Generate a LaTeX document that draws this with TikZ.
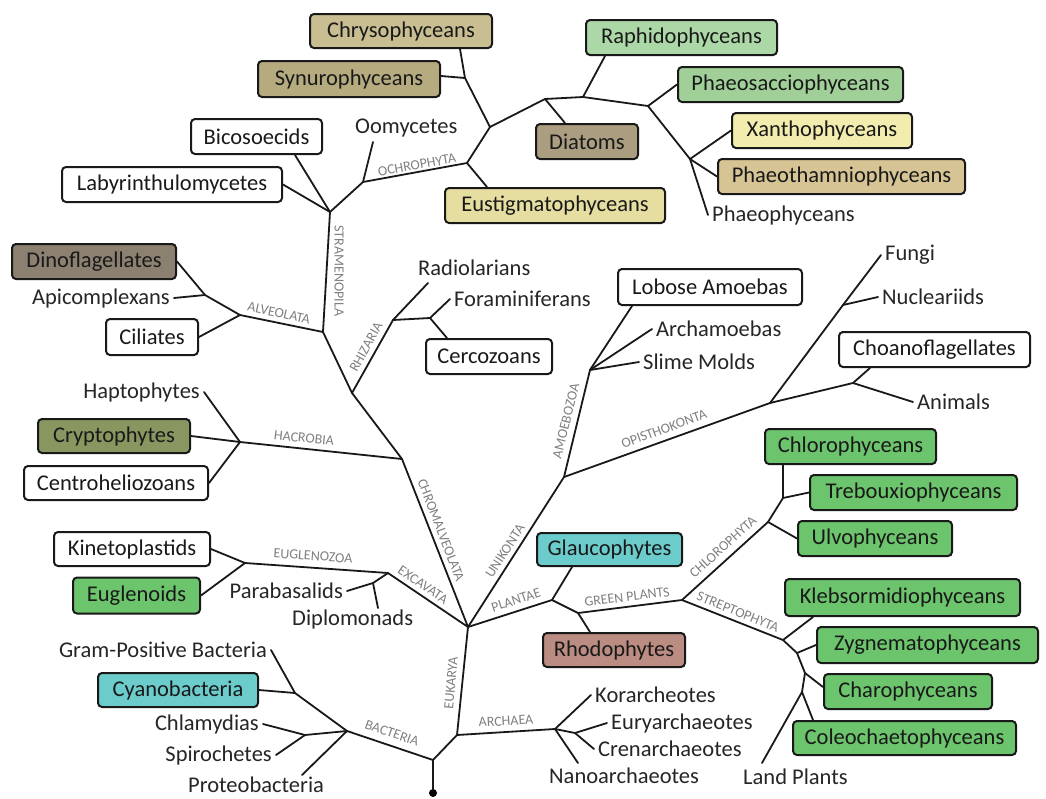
\documentclass[tikz,border=0pt]{standalone}
\usepackage{fontspec}
\setmainfont{Carlito}
\definecolor{cChry}{RGB}{201,190,146}
\definecolor{cSynu}{RGB}{182,170,127}
\definecolor{cDiat}{RGB}{170,157,128}
\definecolor{cDino}{RGB}{140,129,113}
\definecolor{cEust}{RGB}{230,222,160}
\definecolor{cXant}{RGB}{242,237,175}
\definecolor{cPhth}{RGB}{214,196,148}
\definecolor{cRaph}{RGB}{172,216,168}
\definecolor{cPhsa}{RGB}{160,208,152}
\definecolor{cCryp}{RGB}{136,151,96}
\definecolor{cGreen}{RGB}{108,196,108}
\definecolor{cCyan}{RGB}{108,204,204}
\definecolor{cRhod}{RGB}{186,140,130}
\begin{document}
\begin{tikzpicture}[x=1pt,y=-1pt,
  box/.style={draw=black!90, line width=2pt, rounded corners=4pt, inner sep=0pt, font=\fontsize{22.5}{26}\selectfont, text=black!90},
  txt/.style={inner sep=4pt, font=\fontsize{22.5}{26}\selectfont, text=black!85},
  lab/.style={inner sep=0pt, font=\fontsize{14}{16}\selectfont, text=black!50},
  br/.style={line width=1.8pt, draw=black!90, line cap=round, line join=round},
]
\fill[white] (0,0) rectangle (1046,798);
\useasboundingbox (0,0) rectangle (1046,798);

% ---------- boxes ----------
\node[box, fill=cChry, minimum width=182pt, minimum height=34pt] (chry) at (401,31) {Chrysophyceans};
\node[box, fill=cSynu, minimum width=182pt, minimum height=36pt] (synu) at (349,79) {Synurophyceans};
\node[box, fill=white, minimum width=131pt, minimum height=35pt] (bico) at (256.5,136.5) {Bicosoecids};
\node[box, fill=white, minimum width=220pt, minimum height=35pt] (laby) at (172,184.5) {Labyrinthulomycetes};
\node[box, fill=cEust, minimum width=220pt, minimum height=35pt] (eust) at (555,205.5) {Eustigmatophyceans};
\node[box, fill=cRaph, minimum width=191pt, minimum height=35pt] (raph) at (681.5,37.5) {Raphidophyceans};
\node[box, fill=cPhsa, minimum width=225pt, minimum height=35pt] (phsa) at (790.5,84.5) {Phaeosacciophyceans};
\node[box, fill=cDiat, minimum width=102pt, minimum height=35pt] (diat) at (587,141.5) {Diatoms};
\node[box, fill=cXant, minimum width=180pt, minimum height=35pt] (xant) at (822,130.5) {Xanthophyceans};
\node[box, fill=cPhth, minimum width=247pt, minimum height=35pt] (phth) at (841.5,176.5) {Phaeothamniophyceans};
\node[box, fill=cDino, minimum width=164pt, minimum height=35pt] (dino) at (94,261.5) {Dinoflagellates};
\node[box, fill=white, minimum width=92pt, minimum height=36pt] (cili) at (152,337) {Ciliates};
\node[box, fill=white, minimum width=126pt, minimum height=35pt] (cerc) at (489,356.5) {Cercozoans};
\node[box, fill=white, minimum width=184pt, minimum height=36pt] (lobo) at (710,287) {Lobose Amoebas};
\node[box, fill=white, minimum width=191pt, minimum height=35pt] (choa) at (934.5,349.5) {Choanoflagellates};
\node[box, fill=cCryp, minimum width=152pt, minimum height=34pt] (cryp) at (114,436) {Cryptophytes};
\node[box, fill=white, minimum width=184pt, minimum height=34pt] (cent) at (116,483) {Centroheliozoans};
\node[box, fill=cGreen, minimum width=171pt, minimum height=35pt] (chlo) at (850.5,446.5) {Chlorophyceans};
\node[box, fill=cGreen, minimum width=207pt, minimum height=35pt] (treb) at (913.5,492.5) {Trebouxiophyceans};
\node[box, fill=cGreen, minimum width=154pt, minimum height=35pt] (ulvo) at (875,538.5) {Ulvophyceans};
\node[box, fill=white, minimum width=156pt, minimum height=34pt] (kine) at (132,549) {Kinetoplastids};
\node[box, fill=cGreen, minimum width=127pt, minimum height=36pt] (eugl) at (136.5,595.5) {Euglenoids};
\node[box, fill=cCyan, minimum width=145pt, minimum height=33pt] (glau) at (609.5,549.5) {Glaucophytes};
\node[box, fill=cGreen, minimum width=235pt, minimum height=37pt] (kleb) at (902.5,597.5) {Klebsormidiophyceans};
\node[box, fill=cRhod, minimum width=142pt, minimum height=34pt] (rhod) at (614,650) {Rhodophytes};
\node[box, fill=cGreen, minimum width=221pt, minimum height=36pt] (zygn) at (927.5,645) {Zygnematophyceans};
\node[box, fill=cCyan, minimum width=160pt, minimum height=34pt] (cyan) at (178,690) {Cyanobacteria};
\node[box, fill=cGreen, minimum width=168pt, minimum height=35pt] (char) at (908,691.5) {Charophyceans};
\node[box, fill=cGreen, minimum width=223pt, minimum height=34pt] (cole) at (904.5,738) {Coleochaetophyceans};

% ---------- plain names ----------
\node[txt, anchor=west] (oomy) at (351,128) {Oomycetes};
\node[txt, anchor=west] (phae) at (708,215) {Phaeophyceans};
\node[txt, anchor=east] (apic) at (174,298) {Apicomplexans};
\node[txt, anchor=west] (radi) at (414,268) {Radiolarians};
\node[txt, anchor=west] (fora) at (450,299) {Foraminiferans};
\node[txt, anchor=east] (hapt) at (204,392) {Haptophytes};
\node[txt, anchor=east] (para) at (347,591) {Parabasalids};
\node[txt, anchor=west] (dipl) at (288,619) {Diplomonads};
\node[txt, anchor=east] (gram) at (271,650) {Gram-Positive Bacteria};
\node[txt, anchor=east] (chla) at (263,724) {Chlamydias};
\node[txt, anchor=east] (spir) at (276,755) {Spirochetes};
\node[txt, anchor=west] (prot) at (184,785) {Proteobacteria};
\node[txt, anchor=west] (kora) at (591,695) {Korarcheotes};
\node[txt, anchor=west] (eury) at (607,723) {Euryarchaeotes};
\node[txt, anchor=west] (cren) at (594,749) {Crenarchaeotes};
\node[txt, anchor=west] (nano) at (545,776) {Nanoarchaeotes};
\node[txt, anchor=west] (land) at (739,777) {Land Plants};
\node[txt, anchor=west] (arch) at (652,329) {Archamoebas};
\node[txt, anchor=west] (slim) at (639,362) {Slime Molds};
\node[txt, anchor=west] (fung) at (881,255) {Fungi};
\node[txt, anchor=west] (nucl) at (878,297) {Nucleariids};
\node[txt, anchor=west] (anim) at (913,402) {Animals};

\coordinate (oomyT) at (373,142);
\coordinate (radiT) at (428,283);
\coordinate (diplT) at (378,608);
\coordinate (protT) at (302,775);
\coordinate (nanoT) at (578,763);
\coordinate (landT) at (762,763);

% ---------- junctions ----------
\coordinate (S) at (330,212);
\coordinate (O1) at (363,182);
\coordinate (O2) at (467,163);
\coordinate (O3) at (490,127);
\coordinate (O4) at (465,78);
\coordinate (D) at (545,99);
\coordinate (Rp) at (583,97);
\coordinate (P1) at (648,106);
\coordinate (P2) at (690,159);
\coordinate (Al) at (323,332);
\coordinate (Al2) at (240,315);
\coordinate (Dp) at (205,295);
\coordinate (Rz) at (352,393);
\coordinate (Rz2) at (393,320);
\coordinate (Rz3) at (430,318);
\coordinate (H) at (402,459);
\coordinate (H2) at (240,442);
\coordinate (E) at (468,627);
\coordinate (X) at (388,573);
\coordinate (Eg) at (245,563);
\coordinate (Xp) at (373,583);
\coordinate (U) at (564,477);
\coordinate (Am) at (590,370);
\coordinate (Op) at (770,403);
\coordinate (Nu) at (843,305);
\coordinate (Ch) at (853,383);
\coordinate (P) at (552,600);
\coordinate (Pr) at (578,613);
\coordinate (G) at (682,600);
\coordinate (C) at (768,522);
\coordinate (C2) at (783,498);
\coordinate (St) at (783,640);
\coordinate (Z) at (797,653);
\coordinate (Ch2) at (805,673);
\coordinate (Co) at (802,692);
\coordinate (A) at (457,735);
\coordinate (Ar) at (555,729);
\coordinate (Ey) at (575,733);
\coordinate (R) at (433,760);
\coordinate (B1) at (347,731);
\coordinate (Bg) at (295,693);
\coordinate (Bc) at (305,735);
\node[circle, fill=black, inner sep=0pt, minimum size=8pt] (dot) at (433,793) {};

% ---------- branches ----------
% stramenopiles
\draw[br] (S) -- ([xshift=38.5pt]bico.south);
\draw[br] (S) -- (laby.east);
\draw[br] (S) -- (O1) -- (O2) -- (O3) -- (O4) -- ([xshift=59pt]chry.south);
\draw[br] (O4) -- ([yshift=3pt]synu.east);
\draw[br] (O1) -- (oomyT);
\draw[br] (O2) -- ([xshift=-68pt]eust.north);
\draw[br] (O3) -- (D) -- ([xshift=-22pt]diat.north);
\draw[br] (D) -- (Rp) -- ([xshift=-76.5pt]raph.south);
\draw[br] (Rp) -- (P1) -- (phsa.west);
\draw[br] (P1) -- (P2) -- (xant.west);
\draw[br] (P2) -- (phth.west);
\draw[br] (P2) -- (phae.west);
% alveolates
\draw[br] (S) -- (Al) -- (Al2) -- (Dp) -- (dino.east);
\draw[br] (Dp) -- (apic.east);
\draw[br] (Al2) -- (cili.east);
% rhizaria
\draw[br] (Al) -- (Rz) -- (Rz2) -- (radiT);
\draw[br] (Rz2) -- (Rz3) -- (fora.west);
\draw[br] (Rz3) -- ([xshift=-42pt]cerc.north);
% hacrobia
\draw[br] (Rz) -- (H) -- (H2) -- (hapt.east);
\draw[br] (H2) -- (cryp.east);
\draw[br] (H2) -- (cent.east);
\draw[br] (H) -- (E);
% excavata
\draw[br] (E) -- (X) -- (Eg) -- (kine.east);
\draw[br] (Eg) -- (eugl.east);
\draw[br] (X) -- (Xp) -- (para.east);
\draw[br] (Xp) -- (diplT);
% unikonta
\draw[br] (E) -- (U) -- (Am) -- ([xshift=-78pt]lobo.south);
\draw[br] (Am) -- (arch.west);
\draw[br] (Am) -- (slim.west);
\draw[br] (U) -- (Op) -- (Nu) -- (fung.west);
\draw[br] (Nu) -- (nucl.west);
\draw[br] (Op) -- (Ch) -- ([xshift=-64.5pt]choa.south);
\draw[br] (Ch) -- (anim.west);
% plantae
\draw[br] (E) -- (P) -- ([xshift=-37.5pt]glau.south);
\draw[br] (P) -- (Pr) -- ([xshift=-24pt]rhod.north);
\draw[br] (Pr) -- (G) -- (C) -- (ulvo.west);
\draw[br] (C) -- (C2) -- (treb.west);
\draw[br] (C2) -- ([xshift=-67.5pt]chlo.south);
\draw[br] (G) -- (St) -- ([xshift=-89.5pt]kleb.south);
\draw[br] (St) -- (Z) -- (zygn.west);
\draw[br] (Z) -- (Ch2) -- ([yshift=4.5pt]char.west);
\draw[br] (Ch2) -- (Co) -- ([xshift=-91.5pt]cole.north);
\draw[br] (Co) -- (landT);
% root, archaea, bacteria
\draw[br] (dot) -- (R) -- (A) -- (E);
\draw[br] (A) -- (Ar) -- (kora.west);
\draw[br] (Ar) -- (Ey) -- (eury.west);
\draw[br] (Ey) -- (cren.west);
\draw[br] (Ar) -- (nanoT);
\draw[br] (R) -- (B1) -- (Bg) -- (gram.east);
\draw[br] (Bg) -- (cyan.east);
\draw[br] (B1) -- (Bc) -- (chla.east);
\draw[br] (Bc) -- (spir.east);
\draw[br] (B1) -- (protT);

% ---------- clade labels ----------
\node[lab, rotate=10] (lOch) at (417,165) {OCHROPHYTA};
\node[lab, rotate=-90] (lStr) at (339,271) {STRAMENOPILA};
\node[lab, rotate=-12] (lAlv) at (279,313) {ALVEOLATA};
\node[lab, rotate=61] (lRhi) at (366,347) {RHIZARIA};
\node[lab, rotate=-6] (lHac) at (304,438) {HACROBIA};
\node[lab, rotate=-69] (lChr) at (441,530) {CHROMALVEOLATA};
\node[lab, rotate=-4] (lEug) at (313,556) {EUGLENOZOA};
\node[lab, rotate=-34] (lExc) at (423,585) {EXCAVATA};
\node[lab, rotate=57] (lUni) at (505,551) {UNIKONTA};
\node[lab, rotate=18] (lPla) at (516,600) {PLANTAE};
\node[lab, rotate=7] (lGre) at (627,597) {GREEN PLANTS};
\node[lab, rotate=42] (lChl) at (723,547) {CHLOROPHYTA};
\node[lab, rotate=-22] (lStp) at (738,612) {STREPTOPHYTA};
\node[lab, rotate=76] (lAmo) at (566,421) {AMOEBOZOA};
\node[lab, rotate=20] (lOpi) at (664,429) {OPISTHOKONTA};
\node[lab, rotate=85] (lEuk) at (451,683) {EUKARYA};
\node[lab, rotate=-19] (lBac) at (392,733) {BACTERIA};
\node[lab, rotate=3] (lArc) at (506,721) {ARCHAEA};
\end{tikzpicture}
\end{document}
